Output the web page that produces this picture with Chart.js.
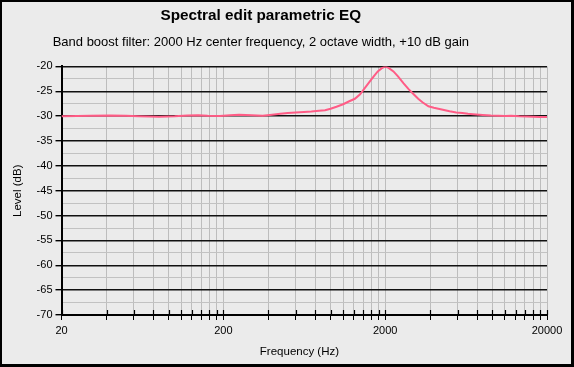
<!DOCTYPE html>
<html>
<head>
<meta charset="utf-8">
<script src="https://cdn.jsdelivr.net/npm/chart.js@4"></script>
<style>
  body { margin: 0; background: #ebebeb; }
  #wrap { position: relative; width: 574px; height: 367px; }
  #frame { position: absolute; left: 0; top: 0; width: 574px; height: 367px; box-sizing: border-box;
           border: 2px solid #000; border-right-width: 3px; border-bottom-width: 3px; pointer-events: none; }
</style>
</head>
<body>
<div id="wrap">
  <canvas id="eq" width="574" height="367"></canvas>
  <div id="frame"></div>
</div>
<script>
const freqs = [20, 25, 30, 40, 50, 60, 70, 80, 90, 100, 120, 140, 160, 190, 220, 250, 300, 350, 400, 450,
  500, 560, 630, 700, 780, 850, 920, 1000, 1100, 1200, 1300, 1400, 1500, 1600, 1700, 1800, 1900, 2000,
  2100, 2250, 2400, 2600, 2800, 3000, 3200, 3400, 3700, 4000, 4400, 5000, 5500, 6000, 6500, 7000,
  8000, 9000, 10000, 11000, 12000, 13500, 15000, 16500, 18000, 20000];
const levels = [-30.0, -29.95, -29.9, -29.85, -29.9, -30.0, -30.05, -30.1, -30.05, -30.0, -29.85, -29.8,
  -29.9, -29.95, -29.8, -29.7, -29.8, -29.9, -29.7, -29.5, -29.35, -29.25, -29.15, -29.05, -28.9, -28.8,
  -28.5, -28.1, -27.6, -27.0, -26.5, -25.6, -24.3, -23.1, -22.0, -21.0, -20.4, -20.0, -20.3, -21.0,
  -22.0, -23.4, -24.6, -25.6, -26.5, -27.2, -28.0, -28.3, -28.6, -29.0, -29.25, -29.35, -29.5, -29.6,
  -29.75, -29.85, -29.9, -29.95, -29.9, -30.0, -30.05, -30.1, -30.15, -30.15];

const xLabels = [20, 200, 2000, 20000];
// ticks split each decade into 10 even linear steps
const xTicks = [20, 38, 56, 74, 92, 110, 128, 146, 164, 182,
  200, 380, 560, 740, 920, 1100, 1280, 1460, 1640, 1820,
  2000, 3800, 5600, 7400, 9200, 11000, 12800, 14600, 16400, 18200, 20000];

const points = freqs.map((f, i) => ({ x: f, y: levels[i] }));
const font = "'Liberation Sans', Arial, sans-serif";

const crossTicks = {
  id: "crossTicks",
  afterDraw(chart) {
    const ctx = chart.ctx, xs = chart.scales.x, bottom = chart.chartArea.bottom;
    ctx.save();
    ctx.strokeStyle = "#000";
    ctx.lineWidth = 1.2;
    xTicks.forEach(v => {
      const px = Math.round(xs.getPixelForValue(v)) + 0.5;
      ctx.beginPath();
      ctx.moveTo(px, bottom - 5);
      ctx.lineTo(px, bottom);
      ctx.stroke();
    });
    ctx.restore();
  }
};

new Chart(document.getElementById("eq"), {
  type: "line",
  data: {
    datasets: [{
      data: points,
      borderColor: "#ff5c86",
      borderWidth: 2,
      pointRadius: 0,
      tension: 0
    }]
  },
  options: {
    responsive: false,
    animation: false,
    layout: { padding: { left: 0, right: 27, top: 0, bottom: 0 } },
    plugins: {
      legend: { display: false },
      tooltip: { enabled: false },
      title: {
        display: true,
        // trailing spaces nudge the centred text left like the original
        text: "Spectral edit parametric EQ      ",
        color: "#000",
        font: { family: font, size: 15.3, weight: "bold" },
        padding: { top: 7, bottom: 4 }
      },
      subtitle: {
        display: true,
        text: "Band boost filter: 2000 Hz center frequency, 2 octave width, +10 dB gain       ",
        color: "#000",
        font: { family: font, size: 13 },
        padding: { top: 5, bottom: 16.5 }
      }
    },
    scales: {
      x: {
        type: "logarithmic",
        min: 20,
        max: 20000,
        afterBuildTicks: axis => { axis.ticks = xTicks.map(v => ({ value: v })); },
        afterFit: axis => { axis.height = 52; },
        grid: { color: "#bdbdbd", lineWidth: 1, tickColor: "#000", tickLength: 5 },
        border: { color: "#000", width: 2 },
        ticks: {
          autoSkip: false,
          maxRotation: 0,
          padding: 4,
          color: "#000",
          font: { family: font, size: 11 },
          callback: v => xLabels.includes(v) ? String(v) : ""
        },
        title: {
          display: true,
          text: "Frequency (Hz)   ",
          color: "#000",
          font: { family: font, size: 11.5 },
          padding: { top: 0, bottom: 8 }
        }
      },
      y: {
        min: -70,
        max: -20,
        afterFit: axis => { axis.width = 61.5; },
        ticks: {
          stepSize: 2.5,
          autoSkip: false,
          padding: 3,
          color: "#000",
          font: { family: font, size: 11 },
          callback: v => v % 5 === 0 ? String(v) : ""
        },
        grid: {
          color: c => c.tick && c.tick.value % 5 === 0 ? "#111" : "#c2c2c2",
          lineWidth: c => c.tick && c.tick.value % 5 === 0 ? 1.4 : 1,
          tickColor: c => c.tick && c.tick.value % 5 === 0 ? "#000" : "rgba(0,0,0,0)",
          tickLength: 6
        },
        border: { color: "#000", width: 2 },
        title: {
          display: true,
          text: "Level (dB)",
          color: "#000",
          font: { family: font, size: 11.5 },
          padding: { top: 11, bottom: 0 }
        }
      }
    }
  },
  plugins: [crossTicks]
});
</script>
</body>
</html>
